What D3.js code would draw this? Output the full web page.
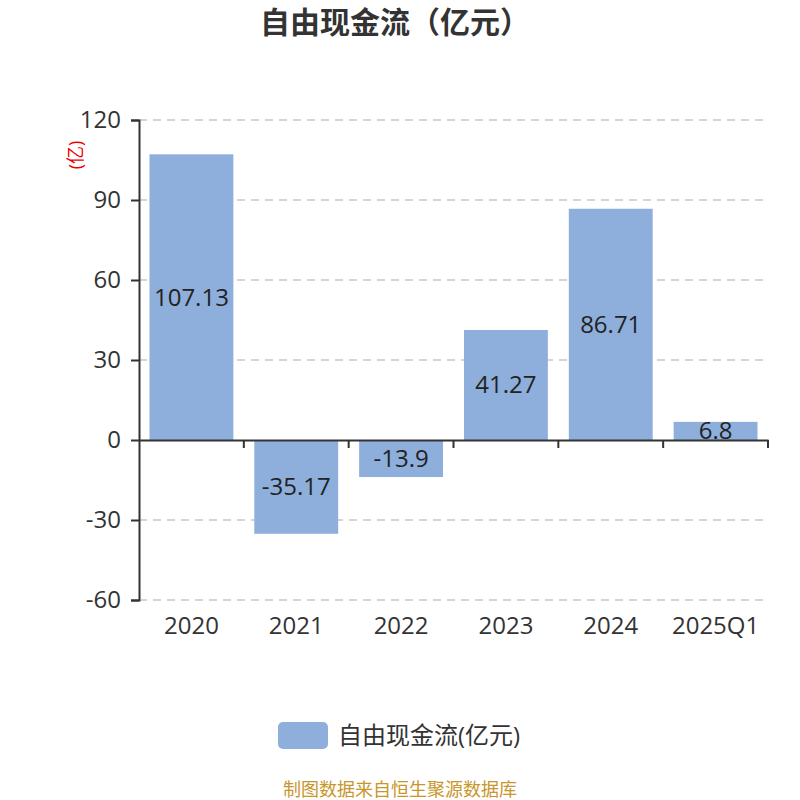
<!DOCTYPE html>
<html><head><meta charset="utf-8">
<script src="https://cdn.jsdelivr.net/npm/d3@7"></script>
<style>body{margin:0;background:#fff}svg{display:block}</style>
</head><body>
<svg id="c" width="800" height="800"></svg>
<script>
const categories = ["2020","2021","2022","2023","2024","2025Q1"];
const values = [107.13, -35.17, -13.9, 41.27, 86.71, 6.8];
const yTicks = [-60, -30, 0, 30, 60, 90, 120];
const seriesName = "自由现金流(亿元)";
const title = "自由现金流（亿元）";
const unitLabel = "(亿)";
const footer = "制图数据来自恒生聚源数据库";

const font = "'Open Sans','Noto Sans CJK SC',sans-serif";
const svg = d3.select("#c");
const L = 139, R = 768, T = 120, B = 600;
const x = d3.scaleBand().domain(categories).range([L, R]).paddingInner(0.2).paddingOuter(0.1);
const y = d3.scaleLinear().domain([-60, 120]).range([B, T]);

svg.append("text").attr("x", 395).attr("y", 33).attr("text-anchor", "middle")
  .attr("font-family", font).attr("font-weight", "bold").attr("font-size", 30).attr("fill", "#333").text(title);

// grid
svg.append("g").selectAll("line").data(yTicks.filter(d => d !== 0)).join("line")
  .attr("x1", L).attr("x2", R).attr("y1", d => y(d)).attr("y2", d => y(d))
  .attr("stroke", "#c8c8c8").attr("stroke-width", 1.5).attr("stroke-dasharray", "8,6");

// bars
svg.append("g").selectAll("rect").data(values).join("rect")
  .attr("x", (d, i) => x(categories[i])).attr("width", x.bandwidth())
  .attr("y", d => y(Math.max(0, d))).attr("height", d => Math.abs(y(d) - y(0)))
  .attr("fill", "#8eaedb");

// value labels
svg.append("g").selectAll("text").data(values).join("text")
  .attr("x", (d, i) => x(categories[i]) + x.bandwidth() / 2)
  .attr("y", d => (y(d) + y(0)) / 2).attr("dy", "0.35em")
  .attr("text-anchor", "middle").attr("font-family", font).attr("font-size", 24).attr("fill", "#222")
  .text(d => String(d));

// y axis
const yAxis = svg.append("g").attr("transform", `translate(${L},0)`)
  .call(d3.axisLeft(y).tickValues(yTicks).tickSize(8).tickPadding(10).tickFormat(d => String(d)));
yAxis.select(".domain").attr("stroke", "#333").attr("stroke-width", 2);
yAxis.selectAll(".tick line").attr("stroke", "#333").attr("stroke-width", 2);
yAxis.selectAll(".tick text").attr("font-family", font).attr("font-size", 24).attr("fill", "#333");

// x axis at zero
const xAxis = svg.append("g").attr("transform", `translate(0,${y(0)})`)
  .call(d3.axisBottom(x).tickSize(0).tickFormat(""));
xAxis.select(".domain").attr("stroke", "#333").attr("stroke-width", 2);
const bounds = d3.range(categories.length + 1).map(i => L + i * (R - L) / categories.length);
svg.append("g").selectAll("line").data(bounds.slice(1)).join("line")
  .attr("x1", d => d).attr("x2", d => d).attr("y1", y(0)).attr("y2", y(0) + 8)
  .attr("stroke", "#333").attr("stroke-width", 2);
svg.append("g").selectAll("text").data(categories).join("text")
  .attr("x", d => x(d) + x.bandwidth() / 2).attr("y", 634)
  .attr("text-anchor", "middle").attr("font-family", font).attr("font-size", 24).attr("fill", "#333")
  .text(d => d);

// unit label
svg.append("text").attr("transform", "translate(82,155) rotate(-90)").attr("text-anchor", "middle")
  .attr("font-family", font).attr("font-size", 18).attr("fill", "#e00").text(unitLabel);

// legend
svg.append("rect").attr("x", 278).attr("y", 722).attr("width", 50).attr("height", 27).attr("rx", 5)
  .attr("fill", "#8eaedb");
svg.append("text").attr("x", 338).attr("y", 744).attr("font-family", font).attr("font-size", 24)
  .attr("fill", "#333").text(seriesName);

// footer
svg.append("text").attr("x", 400).attr("y", 796).attr("text-anchor", "middle").attr("font-family", font)
  .attr("font-size", 18).attr("fill", "#c8962a").text(footer);
</script>
</body></html>
